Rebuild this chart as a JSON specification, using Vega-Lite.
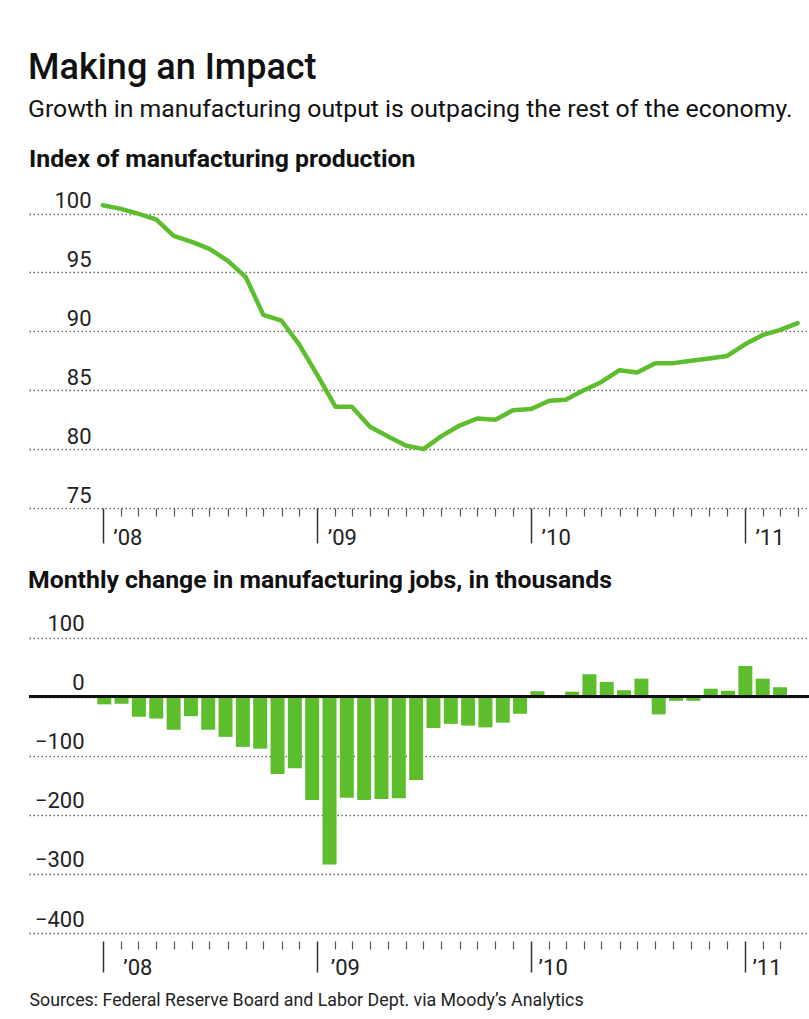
{
  "$schema": "https://vega.github.io/schema/vega-lite/v6.json",
  "background": "white",
  "padding": {"left": 28, "top": 49, "right": 0, "bottom": 5},
  "title": {
    "text": "Making an Impact",
    "subtitle": "Growth in manufacturing output is outpacing the rest of the economy.",
    "anchor": "start",
    "font": "Roboto",
    "fontSize": 36,
    "fontWeight": 500,
    "color": "#111",
    "subtitleFont": "Roboto",
    "subtitleFontSize": 24.8,
    "subtitleColor": "#111",
    "subtitlePadding": 10,
    "offset": 24
  },
  "datasets": {
    "production": [
      {"date": "2008-01-01", "index": 100.7},
      {"date": "2008-02-01", "index": 100.4},
      {"date": "2008-03-01", "index": 100.0},
      {"date": "2008-04-01", "index": 99.5},
      {"date": "2008-05-01", "index": 98.1},
      {"date": "2008-06-01", "index": 97.6},
      {"date": "2008-07-01", "index": 97.0},
      {"date": "2008-08-01", "index": 96.0},
      {"date": "2008-09-01", "index": 94.6},
      {"date": "2008-10-01", "index": 91.4},
      {"date": "2008-11-01", "index": 90.9},
      {"date": "2008-12-01", "index": 88.9},
      {"date": "2009-01-01", "index": 86.3},
      {"date": "2009-02-01", "index": 83.6},
      {"date": "2009-03-01", "index": 83.6},
      {"date": "2009-04-01", "index": 81.9},
      {"date": "2009-05-01", "index": 81.1},
      {"date": "2009-06-01", "index": 80.3},
      {"date": "2009-07-01", "index": 80.0},
      {"date": "2009-08-01", "index": 81.1},
      {"date": "2009-09-01", "index": 82.0},
      {"date": "2009-10-01", "index": 82.6},
      {"date": "2009-11-01", "index": 82.5},
      {"date": "2009-12-01", "index": 83.3},
      {"date": "2010-01-01", "index": 83.4},
      {"date": "2010-02-01", "index": 84.1},
      {"date": "2010-03-01", "index": 84.2},
      {"date": "2010-04-01", "index": 85.0},
      {"date": "2010-05-01", "index": 85.7},
      {"date": "2010-06-01", "index": 86.7},
      {"date": "2010-07-01", "index": 86.5},
      {"date": "2010-08-01", "index": 87.3},
      {"date": "2010-09-01", "index": 87.3},
      {"date": "2010-10-01", "index": 87.5},
      {"date": "2010-11-01", "index": 87.7},
      {"date": "2010-12-01", "index": 87.9},
      {"date": "2011-01-01", "index": 88.9},
      {"date": "2011-02-01", "index": 89.7},
      {"date": "2011-03-01", "index": 90.1},
      {"date": "2011-04-01", "index": 90.7}
    ],
    "jobs": [
      {"month": "2007-12", "change": -13},
      {"month": "2008-01", "change": -12},
      {"month": "2008-02", "change": -34},
      {"month": "2008-03", "change": -37},
      {"month": "2008-04", "change": -56},
      {"month": "2008-05", "change": -33},
      {"month": "2008-06", "change": -56},
      {"month": "2008-07", "change": -68},
      {"month": "2008-08", "change": -85},
      {"month": "2008-09", "change": -88},
      {"month": "2008-10", "change": -131},
      {"month": "2008-11", "change": -121},
      {"month": "2008-12", "change": -175},
      {"month": "2009-01", "change": -284},
      {"month": "2009-02", "change": -171},
      {"month": "2009-03", "change": -175},
      {"month": "2009-04", "change": -173},
      {"month": "2009-05", "change": -172},
      {"month": "2009-06", "change": -141},
      {"month": "2009-07", "change": -53},
      {"month": "2009-08", "change": -46},
      {"month": "2009-09", "change": -49},
      {"month": "2009-10", "change": -52},
      {"month": "2009-11", "change": -44},
      {"month": "2009-12", "change": -29},
      {"month": "2010-01", "change": 9},
      {"month": "2010-02", "change": -2},
      {"month": "2010-03", "change": 8.5},
      {"month": "2010-04", "change": 38},
      {"month": "2010-05", "change": 25},
      {"month": "2010-06", "change": 11},
      {"month": "2010-07", "change": 30.5},
      {"month": "2010-08", "change": -30},
      {"month": "2010-09", "change": -7},
      {"month": "2010-10", "change": -7},
      {"month": "2010-11", "change": 13.5},
      {"month": "2010-12", "change": 10},
      {"month": "2011-01", "change": 52},
      {"month": "2011-02", "change": 30.5},
      {"month": "2011-03", "change": 16}
    ]
  },
  "vconcat": [
    {
      "width": 781,
      "height": 318,
      "title": {"text": "Index of manufacturing production", "anchor": "start", "font": "Roboto", "fontSize": 24.8, "fontWeight": "bold", "color": "#111", "offset": 18},
      "data": {"name": "production"},
      "mark": {"type": "line", "color": "#5cbe2d", "strokeWidth": 4.5, "strokeJoin": "round", "strokeCap": "round"},
      "encoding": {
        "x": {
          "field": "date", "type": "temporal",
          "scale": {"type": "utc", "domain": [{"year": 2007, "month": 8, "date": 28, "utc": true}, {"year": 2011, "month": 4, "date": 22, "utc": true}]},
          "axis": {
            "orient": "bottom", "title": null, "domain": false, "grid": false,
            "ticks": true,
            "tickSize": {"condition": {"test": "utcmonth(datum.value) === 0", "value": 35}, "value": 8},
            "tickWidth": {"condition": {"test": "utcmonth(datum.value) === 0", "value": 1.5}, "value": 1.2},
            "tickColor": {"condition": {"test": "utcmonth(datum.value) === 0", "value": "#333"}, "value": "#555"},
            "labelExpr": "utcmonth(datum.value) === 0 ? '’' + utcFormat(datum.value, '%y') : ''",
            "labelAlign": "left", "labelBaseline": "alphabetic", "labelPadding": 1, "labelOffset": 10,
            "labelFont": "Roboto", "labelFontSize": 22, "labelColor": "#222", "labelFlush": false, "labelOverlap": false, "labelBound": false,
            "values": [
              {"year": 2008, "month": 1, "date": 1, "utc": true}, {"year": 2008, "month": 2, "date": 1, "utc": true}, {"year": 2008, "month": 3, "date": 1, "utc": true}, {"year": 2008, "month": 4, "date": 1, "utc": true}, {"year": 2008, "month": 5, "date": 1, "utc": true}, {"year": 2008, "month": 6, "date": 1, "utc": true}, {"year": 2008, "month": 7, "date": 1, "utc": true}, {"year": 2008, "month": 8, "date": 1, "utc": true}, {"year": 2008, "month": 9, "date": 1, "utc": true}, {"year": 2008, "month": 10, "date": 1, "utc": true}, {"year": 2008, "month": 11, "date": 1, "utc": true}, {"year": 2008, "month": 12, "date": 1, "utc": true},
              {"year": 2009, "month": 1, "date": 1, "utc": true}, {"year": 2009, "month": 2, "date": 1, "utc": true}, {"year": 2009, "month": 3, "date": 1, "utc": true}, {"year": 2009, "month": 4, "date": 1, "utc": true}, {"year": 2009, "month": 5, "date": 1, "utc": true}, {"year": 2009, "month": 6, "date": 1, "utc": true}, {"year": 2009, "month": 7, "date": 1, "utc": true}, {"year": 2009, "month": 8, "date": 1, "utc": true}, {"year": 2009, "month": 9, "date": 1, "utc": true}, {"year": 2009, "month": 10, "date": 1, "utc": true}, {"year": 2009, "month": 11, "date": 1, "utc": true}, {"year": 2009, "month": 12, "date": 1, "utc": true},
              {"year": 2010, "month": 1, "date": 1, "utc": true}, {"year": 2010, "month": 2, "date": 1, "utc": true}, {"year": 2010, "month": 3, "date": 1, "utc": true}, {"year": 2010, "month": 4, "date": 1, "utc": true}, {"year": 2010, "month": 5, "date": 1, "utc": true}, {"year": 2010, "month": 6, "date": 1, "utc": true}, {"year": 2010, "month": 7, "date": 1, "utc": true}, {"year": 2010, "month": 8, "date": 1, "utc": true}, {"year": 2010, "month": 9, "date": 1, "utc": true}, {"year": 2010, "month": 10, "date": 1, "utc": true}, {"year": 2010, "month": 11, "date": 1, "utc": true}, {"year": 2010, "month": 12, "date": 1, "utc": true},
              {"year": 2011, "month": 1, "date": 1, "utc": true}, {"year": 2011, "month": 2, "date": 1, "utc": true}, {"year": 2011, "month": 3, "date": 1, "utc": true}, {"year": 2011, "month": 4, "date": 1, "utc": true}
            ]
          }
        },
        "y": {
          "field": "index", "type": "quantitative",
          "scale": {"domain": [75, 102], "nice": false, "zero": false},
          "axis": {
            "title": null, "values": [75, 80, 85, 90, 95, 100],
            "grid": true, "gridDash": [1.5, 2.5], "gridColor": "#666", "gridWidth": 1.3,
            "domain": false, "ticks": false, "tickSize": 0,
            "labelAlign": "right", "labelBaseline": "alphabetic", "labelPadding": -62, "labelOffset": -6,
            "labelFont": "Roboto", "labelFontSize": 22, "labelColor": "#222", "labelFlush": false, "labelOverlap": false, "labelBound": false
          }
        }
      }
    },
    {
      "spacing": 0,
      "vconcat": [
        {
          "width": 781,
          "height": 322,
          "title": {"text": "Monthly change in manufacturing jobs, in thousands", "anchor": "start", "font": "Roboto", "fontSize": 24.8, "fontWeight": "bold", "color": "#111", "offset": 18},
          "data": {"name": "jobs"},
          "layer": [
            {
              "mark": {"type": "bar", "color": "#5cbe2d"},
              "encoding": {
                "x": {
                  "field": "month", "type": "ordinal",
                  "scale": {
                    "domain": ["2007-09", "2007-10", "2007-11", "2007-12",
                      "2008-01", "2008-02", "2008-03", "2008-04", "2008-05", "2008-06", "2008-07", "2008-08", "2008-09", "2008-10", "2008-11", "2008-12",
                      "2009-01", "2009-02", "2009-03", "2009-04", "2009-05", "2009-06", "2009-07", "2009-08", "2009-09", "2009-10", "2009-11", "2009-12",
                      "2010-01", "2010-02", "2010-03", "2010-04", "2010-05", "2010-06", "2010-07", "2010-08", "2010-09", "2010-10", "2010-11", "2010-12",
                      "2011-01", "2011-02", "2011-03", "2011-04"],
                    "paddingInner": 0.192, "paddingOuter": 0.634, "align": 0.742, "round": false
                  },
                  "axis": null
                },
                "y": {
                  "field": "change", "type": "quantitative",
                  "scale": {"domain": [-400, 145], "nice": false, "zero": false},
                  "axis": {
                    "title": null, "values": [-400, -300, -200, -100, 0, 100],
                    "grid": true, "gridDash": [1.5, 2.5], "gridColor": "#666", "gridWidth": 1.3,
                    "domain": false, "ticks": false, "tickSize": 0,
                    "labelAlign": "right", "labelBaseline": "alphabetic", "labelPadding": -55, "labelOffset": -7,
                    "labelFont": "Roboto", "labelFontSize": 22, "labelColor": "#222", "labelFlush": false, "labelOverlap": false, "labelBound": false
                  }
                }
              }
            },
            {
              "mark": {"type": "rule", "color": "#111", "strokeWidth": 2},
              "encoding": {"y": {"datum": 0, "type": "quantitative"}}
            }
          ]
        },
        {
          "width": 781,
          "height": 1,
          "data": {"name": "production"},
          "mark": {"type": "point", "opacity": 0},
          "encoding": {
            "x": {
              "field": "date", "type": "temporal",
              "scale": {"type": "utc", "domain": [{"year": 2007, "month": 8, "date": 28, "utc": true}, {"year": 2011, "month": 4, "date": 22, "utc": true}]},
              "axis": {
                "orient": "bottom", "domain": false, "grid": false, "ticks": true,
                "tickSize": {"condition": {"test": "utcmonth(datum.value) === 0", "value": 31}, "value": 8},
                "tickWidth": {"condition": {"test": "utcmonth(datum.value) === 0", "value": 1.5}, "value": 1.2},
                "tickColor": {"condition": {"test": "utcmonth(datum.value) === 0", "value": "#333"}, "value": "#555"},
                "labelExpr": "utcmonth(datum.value) === 0 ? '’' + utcFormat(datum.value, '%y') : ''",
                "labelAlign": "left", "labelBaseline": "alphabetic", "labelPadding": 2,
                "labelOffset": {"condition": [{"test": "utcyear(datum.value) === 2008", "value": 20}, {"test": "utcyear(datum.value) === 2009", "value": 13}], "value": 7},
                "labelFont": "Roboto", "labelFontSize": 22, "labelColor": "#222", "labelFlush": false, "labelOverlap": false, "labelBound": false,
                "title": "Sources: Federal Reserve Board and Labor Dept. via Moody’s Analytics",
                "titleFont": "Roboto", "titleFontSize": 17.8, "titleFontWeight": "normal", "titleColor": "#222",
                "titleAnchor": "start", "titleAlign": "left", "titleBaseline": "alphabetic", "titleX": 0, "titleY": 64,
                "values": [
                  {"year": 2008, "month": 1, "date": 1, "utc": true}, {"year": 2008, "month": 2, "date": 1, "utc": true}, {"year": 2008, "month": 3, "date": 1, "utc": true}, {"year": 2008, "month": 4, "date": 1, "utc": true}, {"year": 2008, "month": 5, "date": 1, "utc": true}, {"year": 2008, "month": 6, "date": 1, "utc": true}, {"year": 2008, "month": 7, "date": 1, "utc": true}, {"year": 2008, "month": 8, "date": 1, "utc": true}, {"year": 2008, "month": 9, "date": 1, "utc": true}, {"year": 2008, "month": 10, "date": 1, "utc": true}, {"year": 2008, "month": 11, "date": 1, "utc": true}, {"year": 2008, "month": 12, "date": 1, "utc": true},
                  {"year": 2009, "month": 1, "date": 1, "utc": true}, {"year": 2009, "month": 2, "date": 1, "utc": true}, {"year": 2009, "month": 3, "date": 1, "utc": true}, {"year": 2009, "month": 4, "date": 1, "utc": true}, {"year": 2009, "month": 5, "date": 1, "utc": true}, {"year": 2009, "month": 6, "date": 1, "utc": true}, {"year": 2009, "month": 7, "date": 1, "utc": true}, {"year": 2009, "month": 8, "date": 1, "utc": true}, {"year": 2009, "month": 9, "date": 1, "utc": true}, {"year": 2009, "month": 10, "date": 1, "utc": true}, {"year": 2009, "month": 11, "date": 1, "utc": true}, {"year": 2009, "month": 12, "date": 1, "utc": true},
                  {"year": 2010, "month": 1, "date": 1, "utc": true}, {"year": 2010, "month": 2, "date": 1, "utc": true}, {"year": 2010, "month": 3, "date": 1, "utc": true}, {"year": 2010, "month": 4, "date": 1, "utc": true}, {"year": 2010, "month": 5, "date": 1, "utc": true}, {"year": 2010, "month": 6, "date": 1, "utc": true}, {"year": 2010, "month": 7, "date": 1, "utc": true}, {"year": 2010, "month": 8, "date": 1, "utc": true}, {"year": 2010, "month": 9, "date": 1, "utc": true}, {"year": 2010, "month": 10, "date": 1, "utc": true}, {"year": 2010, "month": 11, "date": 1, "utc": true}, {"year": 2010, "month": 12, "date": 1, "utc": true},
                  {"year": 2011, "month": 1, "date": 1, "utc": true}, {"year": 2011, "month": 2, "date": 1, "utc": true}, {"year": 2011, "month": 3, "date": 1, "utc": true}
                ]
              }
            }
          }
        }
      ]
    }
  ],
  "spacing": 20,
  "config": {
    "view": {"stroke": null},
    "font": "Roboto"
  }
}
